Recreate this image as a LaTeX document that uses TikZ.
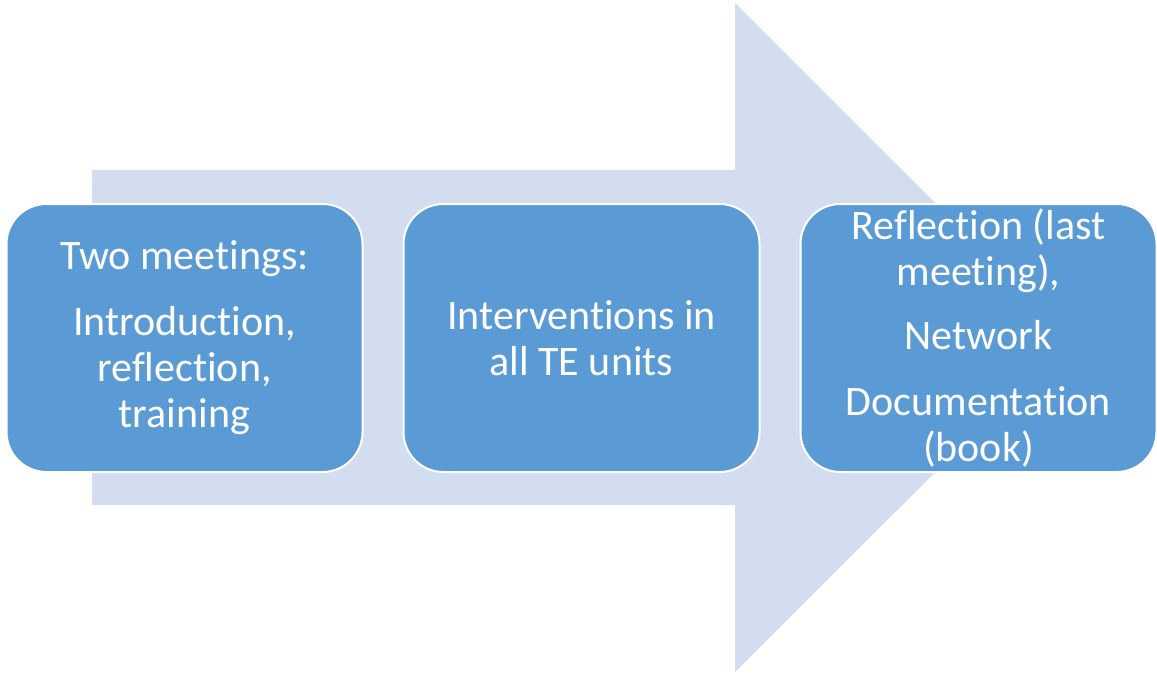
\documentclass[tikz,border=0pt]{standalone}
\usepackage{fontspec}
\setmainfont{Carlito}[Ligatures=NoCommon]
\usetikzlibrary{positioning}
\definecolor{boxblue}{HTML}{5B9BD5}
\definecolor{arrowblue}{HTML}{D2DEEF}

\begin{document}
\begin{tikzpicture}[x=1pt, y=-1pt,
    stage/.style={draw=white, line width=2pt, fill=boxblue, rounded corners=40pt,
      minimum width=356pt, minimum height=268pt, text=white, align=center,
      font=\fontsize{42}{46}\selectfont}]
  \useasboundingbox (0,0) rectangle (1157,677);

  % big arrow behind the stages
  \fill [arrowblue] (92,170) -- (735,170) -- (735,3) -- (1070,337.5) -- (735,672)
    -- (735,505) -- (92,505) -- cycle;

  \node [stage] (meetings) at (184.5,338) {Two meetings:\\[20pt] Introduction,\\ reflection,\\ training};
  \node [stage, right=39pt of meetings] (interventions) {Interventions in\\ all TE units};
  \node [stage, right=39pt of interventions] (reflection) {Reflection (last\\ meeting),\\[18pt] Network\\[20pt] Documentation\\ (book)};
\end{tikzpicture}
\end{document}
